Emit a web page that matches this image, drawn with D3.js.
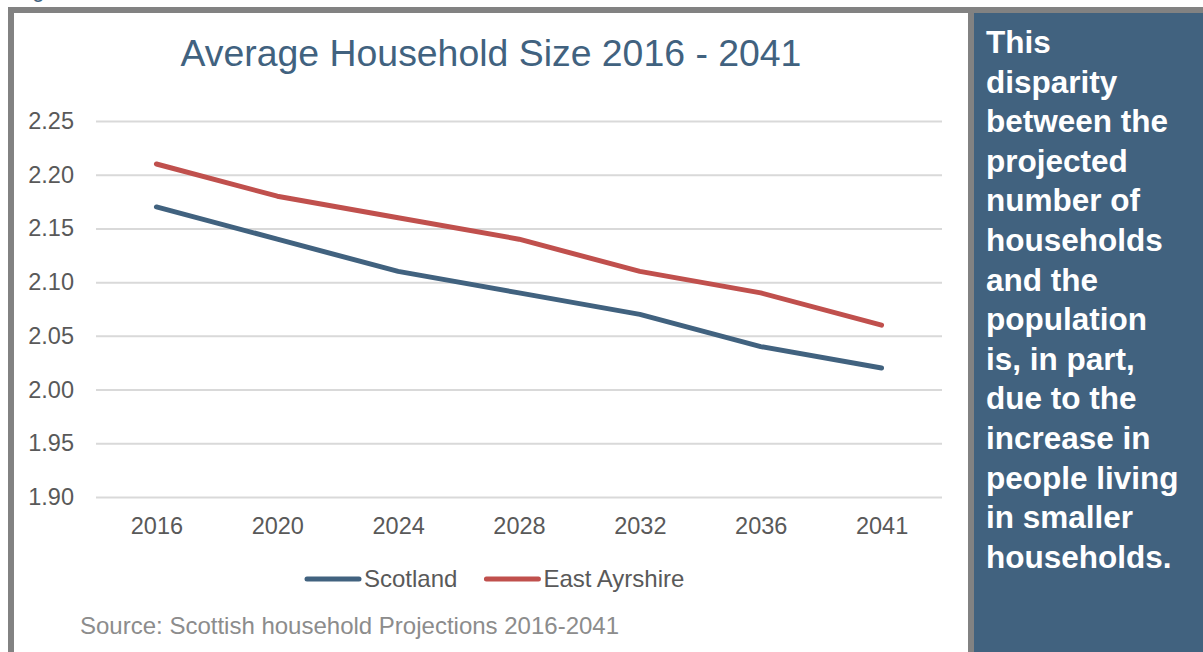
<!DOCTYPE html>
<html>
<head>
<meta charset="utf-8">
<script src="https://cdn.jsdelivr.net/npm/d3@7"></script>
<style>
  body { margin: 0; background: #fff; }
  svg { display: block; font-family: "Liberation Sans", Arial, sans-serif; }
</style>
</head>
<body>
<div id="chart"></div>
<script>
// chart values
const years = ["2016", "2020", "2024", "2028", "2032", "2036", "2041"];
const scotland = [2.17, 2.14, 2.11, 2.09, 2.07, 2.04, 2.02];
const eastAyrshire = [2.21, 2.18, 2.16, 2.14, 2.11, 2.09, 2.06];
const yTicks = [1.90, 1.95, 2.00, 2.05, 2.10, 2.15, 2.20, 2.25];
const seriesNames = ["Scotland", "East Ayrshire"];

const panelLines = [
    "This", "disparity", "between the", "projected", "number of",
    "households", "and the", "population", "is, in part,", "due to the",
    "increase in", "people living", "in smaller", "households."
];

const width = 1203;
const height = 652;
const blue = "#41627F";
const red = "#C0504D";
const frame = "#828282";
const plot = { left: 96, right: 942, top: 121, bottom: 497 };

const svg = d3.select("#chart")
    .append("svg")
    .attr("width", width)
    .attr("height", height);

// caption above the frame, mostly outside the picture as in the source
svg.append("text")
    .attr("x", 14)
    .attr("y", -3)
    .attr("fill", blue)
    .style("font-size", "22px")
    .text("Figure");

// grey frame
svg.append("rect").attr("x", 8).attr("y", 7).attr("width", width - 8).attr("height", 6).attr("fill", frame);
svg.append("rect").attr("x", 8).attr("y", 7).attr("width", 6).attr("height", height - 7).attr("fill", frame);
svg.append("rect").attr("x", 968).attr("y", 7).attr("width", 6).attr("height", height - 7).attr("fill", frame);

// side panel
svg.append("rect")
    .attr("x", 974)
    .attr("y", 13)
    .attr("width", width - 974)
    .attr("height", height - 13)
    .attr("fill", blue);

svg.append("g")
    .selectAll("text")
    .data(panelLines)
    .enter()
    .append("text")
    .attr("x", 986)
    .attr("y", (d, i) => 53 + i * 39.6)
    .attr("fill", "#fff")
    .style("font-size", "31.5px")
    .style("font-weight", "bold")
    .text(d => d);

// title
svg.append("text")
    .attr("x", 491)
    .attr("y", 66)
    .attr("text-anchor", "middle")
    .attr("fill", blue)
    .style("font-size", "37.4px")
    .text("Average Household Size 2016 - 2041");

const x = d3.scalePoint().domain(years).range([plot.left, plot.right]).padding(0.5);
const y = d3.scaleLinear().domain([1.90, 2.25]).range([plot.bottom, plot.top]);

// gridlines
const grid = svg.append("g")
    .attr("transform", `translate(${plot.left},0)`)
    .call(d3.axisLeft(y).tickValues(yTicks).tickSize(-(plot.right - plot.left)).tickFormat(""));
grid.select(".domain").remove();
grid.selectAll("line").attr("stroke", "#D9D9D9").attr("stroke-width", 2);

// y labels
const yAxis = svg.append("g")
    .attr("transform", `translate(${plot.left},0)`)
    .call(d3.axisLeft(y).tickValues(yTicks).tickSize(0).tickPadding(22).tickFormat(d3.format(".2f")));
yAxis.select(".domain").remove();
yAxis.selectAll("text")
    .attr("fill", "#595959")
    .style("font-size", "23.5px")
    .style("font-family", "'Liberation Sans', Arial, sans-serif");

// x labels
const xAxis = svg.append("g")
    .attr("transform", `translate(0,${plot.bottom})`)
    .call(d3.axisBottom(x).tickSize(0).tickPadding(20));
xAxis.select(".domain").remove();
xAxis.selectAll("text")
    .attr("fill", "#595959")
    .style("font-size", "23.5px")
    .style("font-family", "'Liberation Sans', Arial, sans-serif");

// series lines
const line = d3.line()
    .x((d, i) => x(years[i]))
    .y(d => y(d));

[scotland, eastAyrshire].forEach((vals, idx) => {
    svg.append("path")
        .datum(vals)
        .attr("d", line)
        .attr("fill", "none")
        .attr("stroke", idx === 0 ? blue : red)
        .attr("stroke-width", 5)
        .attr("stroke-linecap", "round")
        .attr("stroke-linejoin", "round");
});

// legend
const legend = svg.append("g").attr("transform", "translate(305,579)");
let lx = 0;
seriesNames.forEach((name, idx) => {
    legend.append("line")
        .attr("x1", lx + 2)
        .attr("x2", lx + 54)
        .attr("y1", 0)
        .attr("y2", 0)
        .attr("stroke", idx === 0 ? blue : red)
        .attr("stroke-width", 5)
        .attr("stroke-linecap", "round");
    const t = legend.append("text")
        .attr("x", lx + 59)
        .attr("y", 8)
        .attr("fill", "#595959")
        .style("font-size", "24px")
        .text(name);
    lx += 59 + t.node().getComputedTextLength() + 27;
});

// source note
svg.append("text")
    .attr("x", 80)
    .attr("y", 634)
    .attr("fill", "#8C8C8C")
    .style("font-size", "24px")
    .text("Source: Scottish household Projections 2016-2041");
</script>
</body>
</html>
